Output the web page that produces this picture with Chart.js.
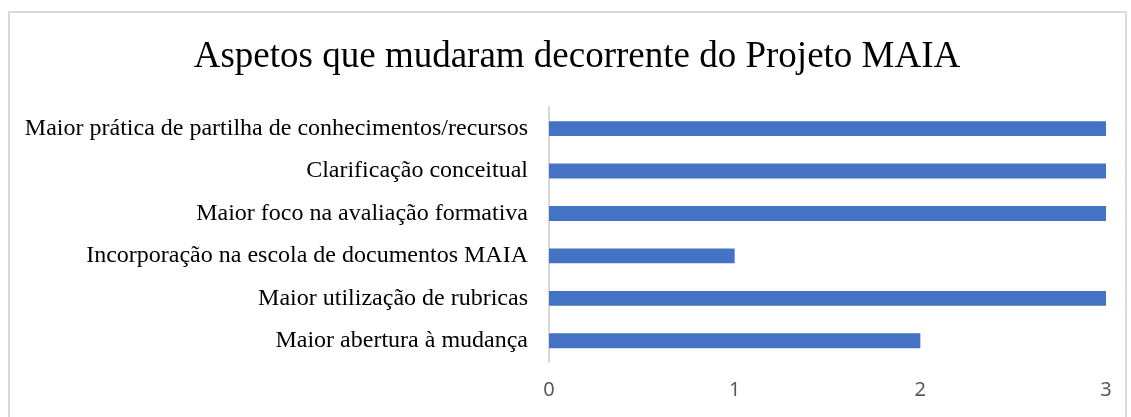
<!DOCTYPE html>
<html>
<head>
<meta charset="utf-8">
<script src="https://cdn.jsdelivr.net/npm/chart.js@4"></script>
<style>
  html, body { margin: 0; padding: 0; background: #fff; overflow: hidden; }
  #frame {
    position: absolute; left: 8px; top: 11px;
    width: 1119px; height: 420px;
    border: 2px solid #d9d9d9; box-sizing: border-box;
  }
  #wrap { position: absolute; left: 0; top: 0; width: 1131px; height: 417px; }
</style>
</head>
<body>
<div id="frame"></div>
<div id="wrap"><canvas id="aspectsChart" width="1131" height="417"></canvas></div>
<script>
// Dados do gráfico
const categories = [
    'Maior prática de partilha de conhecimentos/recursos',
    'Clarificação conceitual',
    'Maior foco na avaliação formativa',
    'Incorporação na escola de documentos MAIA',
    'Maior utilização de rubricas',
    'Maior abertura à mudança'
];
const counts = [3, 3, 3, 1, 3, 2];
const xTicks = [0, 1, 2, 3];

const barColor = '#4472c4';

// Desloca o título para ficar centrado como no original
const shiftTitle = {
    id: 'shiftTitle',
    afterLayout(chart) {
        if (chart.titleBlock) {
            chart.titleBlock.left += 48;
        }
    }
};

const ctx = document.getElementById('aspectsChart').getContext('2d');
new Chart(ctx, {
    type: 'bar',
    data: {
        labels: categories,
        datasets: [{
            data: counts,
            backgroundColor: barColor,
            categoryPercentage: 1,
            barPercentage: 0.35
        }]
    },
    options: {
        indexAxis: 'y',
        responsive: false,
        animation: false,
        layout: { padding: { left: 0, right: 25, top: 0, bottom: 0 } },
        plugins: {
            legend: { display: false },
            tooltip: { enabled: false },
            title: {
                display: true,
                text: 'Aspetos que mudaram decorrente do Projeto MAIA',
                color: '#000',
                font: { family: '"Liberation Serif", serif', size: 37, weight: 'normal' },
                padding: { top: 35, bottom: 28 }
            }
        },
        scales: {
            x: {
                min: 0,
                max: 3,
                afterBuildTicks: function(scale) {
                    scale.ticks = xTicks.map(v => ({ value: v }));
                },
                afterFit: function(scale) { scale.height = 55; },
                grid: { display: false },
                border: { display: false },
                ticks: {
                    padding: 8,
                    color: '#595959',
                    font: { family: '"Noto Sans", sans-serif', size: 20 }
                }
            },
            y: {
                afterFit: function(scale) { scale.width = 549; },
                grid: { display: false },
                border: { display: true, color: '#d9d9d9', width: 2 },
                ticks: {
                    padding: 13,
                    color: '#000',
                    font: { family: '"Liberation Serif", serif', size: 24 }
                }
            }
        }
    },
    plugins: [shiftTitle]
});
</script>
</body>
</html>
